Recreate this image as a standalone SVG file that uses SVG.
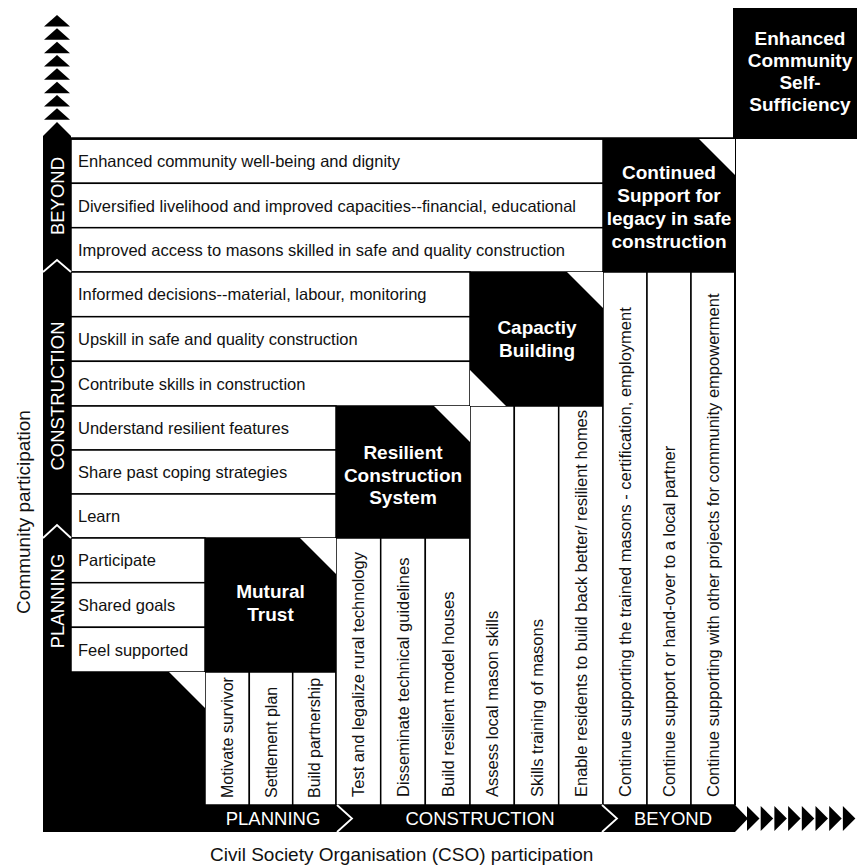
<svg xmlns="http://www.w3.org/2000/svg" width="857" height="865" viewBox="0 0 857 865">
  <style>
    .cell { fill: #fff; stroke: #000; stroke-width: 1.5; }
    .box { fill: #000; }
    .cut { fill: #fff; }
    .t { font-family: "Liberation Sans", Arial, sans-serif; font-size: 16.5px; fill: #111; }
    .ts { font-size: 16px; }
    .bt { font-family: "Liberation Sans", Arial, sans-serif; font-size: 19px; font-weight: bold; fill: #fff; text-anchor: middle; }
    .lab { font-family: "Liberation Sans", Arial, sans-serif; font-size: 18.5px; fill: #fff; text-anchor: middle; }
    .axis { font-family: "Liberation Sans", Arial, sans-serif; font-size: 19px; fill: #111; }
    .chev { fill: none; stroke: #fff; stroke-width: 1.8; }
  </style>
  <defs>
    <polygon id="upTri" points="0,11.5 13,0 26,11.5" fill="#000"/>
    <polygon id="rightTri" points="0,0 12.5,12.5 0,25" fill="#000"/>
  </defs>

  <rect width="857" height="865" fill="#fff"/>

  <!-- Outcome rows: BEYOND -->
  <g id="rows-beyond">
    <rect class="cell" x="71" y="139" width="532" height="44.3"/>
    <rect class="cell" x="71" y="183.3" width="532" height="44.4"/>
    <rect class="cell" x="71" y="227.7" width="532" height="44.3"/>
    <text class="t" x="78" y="167">Enhanced community well-being and dignity</text>
    <text class="t" x="78" y="211.5">Diversified livelihood and improved capacities--financial, educational</text>
    <text class="t" x="78" y="256">Improved access to masons skilled in safe and quality construction</text>
  </g>

  <!-- Outcome rows: CONSTRUCTION (upper) -->
  <g id="rows-construction-a">
    <rect class="cell" x="71" y="272" width="399" height="44.7"/>
    <rect class="cell" x="71" y="316.7" width="399" height="44.6"/>
    <rect class="cell" x="71" y="361.3" width="399" height="44.7"/>
    <text class="t" x="78" y="300">Informed decisions--material, labour, monitoring</text>
    <text class="t" x="78" y="345">Upskill in safe and quality construction</text>
    <text class="t" x="78" y="389.7">Contribute skills in construction</text>
  </g>

  <!-- Outcome rows: CONSTRUCTION (lower) -->
  <g id="rows-construction-b">
    <rect class="cell" x="71" y="406" width="265" height="44"/>
    <rect class="cell" x="71" y="450" width="265" height="44"/>
    <rect class="cell" x="71" y="494" width="265" height="44"/>
    <text class="t" x="78" y="434">Understand resilient features</text>
    <text class="t" x="78" y="478">Share past coping strategies</text>
    <text class="t" x="78" y="522">Learn</text>
  </g>

  <!-- Outcome rows: PLANNING -->
  <g id="rows-planning">
    <rect class="cell" x="71" y="538" width="134" height="44.7"/>
    <rect class="cell" x="71" y="582.7" width="134" height="44.6"/>
    <rect class="cell" x="71" y="627.3" width="134" height="44.7"/>
    <text class="t" x="78" y="566">Participate</text>
    <text class="t" x="78" y="611">Shared goals</text>
    <text class="t" x="78" y="655.7">Feel supported</text>
  </g>

  <!-- CSO action columns: PLANNING -->
  <g id="cols-planning">
    <rect class="cell" x="205" y="672" width="44.3" height="133"/>
    <rect class="cell" x="249.3" y="672" width="43.4" height="133"/>
    <rect class="cell" x="292.7" y="672" width="43.3" height="133"/>
    <text class="t ts" transform="translate(233,798) rotate(-90)">Motivate survivor</text>
    <text class="t ts" transform="translate(277,798) rotate(-90)">Settlement plan</text>
    <text class="t ts" transform="translate(320,798) rotate(-90)">Build partnership</text>
  </g>

  <!-- CSO action columns: CONSTRUCTION (system) -->
  <g id="cols-construction-b">
    <rect class="cell" x="336" y="538" width="44.7" height="267"/>
    <rect class="cell" x="380.7" y="538" width="44.6" height="267"/>
    <rect class="cell" x="425.3" y="538" width="44.7" height="267"/>
    <text class="t" transform="translate(364,797) rotate(-90)">Test and legalize rural technology</text>
    <text class="t" transform="translate(409,797) rotate(-90)">Disseminate technical guidelines</text>
    <text class="t" transform="translate(454,797) rotate(-90)">Build resilient model houses</text>
  </g>

  <!-- CSO action columns: CONSTRUCTION (capacity) -->
  <g id="cols-construction-a">
    <rect class="cell" x="470" y="406" width="44.3" height="399"/>
    <rect class="cell" x="514.3" y="406" width="44.4" height="399"/>
    <rect class="cell" x="558.7" y="406" width="44.3" height="399"/>
    <text class="t" transform="translate(498,797) rotate(-90)">Assess local mason skills</text>
    <text class="t" transform="translate(542.5,797) rotate(-90)">Skills training of masons</text>
    <text class="t" transform="translate(587,797) rotate(-90)">Enable residents to build back better/ resilient homes</text>
  </g>

  <!-- CSO action columns: BEYOND -->
  <g id="cols-beyond">
    <rect class="cell" x="603" y="272" width="44" height="533"/>
    <rect class="cell" x="647" y="272" width="44" height="533"/>
    <rect class="cell" x="691" y="272" width="44" height="533"/>
    <text class="t" transform="translate(631,797) rotate(-90)">Continue supporting the trained masons - certification, employment</text>
    <text class="t" transform="translate(675,797) rotate(-90)">Continue support or hand-over to a local partner</text>
    <text class="t" transform="translate(719,797) rotate(-90)">Continue supporting with other projects for community empowerment</text>
  </g>

  <!-- Frame top edge and right edge -->
  <line x1="71" y1="138.5" x2="735" y2="138.5" stroke="#000" stroke-width="2.5"/>
  <line x1="735" y1="139" x2="735" y2="805" stroke="#000" stroke-width="2"/>

  <!-- Milestone boxes -->
  <g id="base-square">
    <rect class="box" x="71" y="672" width="134" height="133"/>
    <polygon class="cut" points="169,672 205,672 205,708"/>
  </g>

  <g id="mutual-trust">
    <rect class="box" x="205" y="538" width="131" height="134"/>
    <polygon class="cut" points="300,538 336,538 336,574"/>
    <text class="bt" x="270.5" y="598">Mutural</text>
    <text class="bt" x="270.5" y="621">Trust</text>
  </g>

  <g id="resilient-construction-system">
    <rect class="box" x="336" y="406" width="134" height="132"/>
    <polygon class="cut" points="434,406 470,406 470,442"/>
    <text class="bt" x="403" y="459">Resilient</text>
    <text class="bt" x="403" y="482">Construction</text>
    <text class="bt" x="403" y="504">System</text>
  </g>

  <g id="capacity-building">
    <rect class="box" x="470" y="272" width="133" height="134"/>
    <polygon class="cut" points="567,272 603,272 603,308"/>
    <polygon class="cut" points="470,370 470,406 506,406"/>
    <text class="bt" x="537" y="334">Capactiy</text>
    <text class="bt" x="537" y="357">Building</text>
  </g>

  <g id="continued-support">
    <rect class="box" x="603" y="139" width="132" height="133"/>
    <polygon class="cut" points="699,139 735,139 735,175"/>
    <text class="bt" x="669" y="179">Continued</text>
    <text class="bt" x="669" y="202">Support for</text>
    <text class="bt" x="669" y="225">legacy in safe</text>
    <text class="bt" x="669" y="248">construction</text>
  </g>

  <g id="enhanced-self-sufficiency">
    <rect class="box" x="733" y="8" width="124" height="131"/>
    <text class="bt" x="800" y="45">Enhanced</text>
    <text class="bt" x="800" y="67">Community</text>
    <text class="bt" x="800" y="89">Self-</text>
    <text class="bt" x="800" y="111">Sufficiency</text>
  </g>

  <!-- Stage axes with arrow stacks -->
  <g id="connectors">
    <g id="community-axis">
      <polygon class="box" points="43,136 57,122 71,136 71,832 43,832"/>
      <use href="#upTri" x="44" y="15"/>
      <use href="#upTri" x="44" y="28.3"/>
      <use href="#upTri" x="44" y="41.7"/>
      <use href="#upTri" x="44" y="55"/>
      <use href="#upTri" x="44" y="68.3"/>
      <use href="#upTri" x="44" y="81.7"/>
      <use href="#upTri" x="44" y="95"/>
      <use href="#upTri" x="44" y="108.3"/>
      <polyline class="chev" points="43,272 57,260 71,272"/>
      <polyline class="chev" points="43,538 57,525 71,538"/>
      <text class="lab" transform="translate(64,196) rotate(-90)">BEYOND</text>
      <text class="lab" transform="translate(64,396) rotate(-90)">CONSTRUCTION</text>
      <text class="lab" transform="translate(64,601) rotate(-90)">PLANNING</text>
    </g>
    <g id="cso-axis">
      <polygon class="box" points="43,805 735,805 748,818.5 735,832 43,832"/>
      <use href="#rightTri" x="747" y="806"/>
      <use href="#rightTri" x="760.7" y="806"/>
      <use href="#rightTri" x="774.4" y="806"/>
      <use href="#rightTri" x="788.1" y="806"/>
      <use href="#rightTri" x="801.8" y="806"/>
      <use href="#rightTri" x="815.5" y="806"/>
      <use href="#rightTri" x="829.2" y="806"/>
      <use href="#rightTri" x="842.9" y="806"/>
      <polyline class="chev" points="337,805 352,818.5 337,832"/>
      <polyline class="chev" points="602,805 617,818.5 602,832"/>
      <text class="lab" x="273" y="825">PLANNING</text>
      <text class="lab" x="480" y="825">CONSTRUCTION</text>
      <text class="lab" x="673" y="825">BEYOND</text>
    </g>
  </g>

  <!-- Axis titles -->
  <g id="axis-titles">
    <text class="axis" text-anchor="middle" transform="translate(29.5,512) rotate(-90)">Community participation</text>
    <text class="axis" x="210" y="861">Civil Society Organisation (CSO) participation</text>
  </g>
</svg>
